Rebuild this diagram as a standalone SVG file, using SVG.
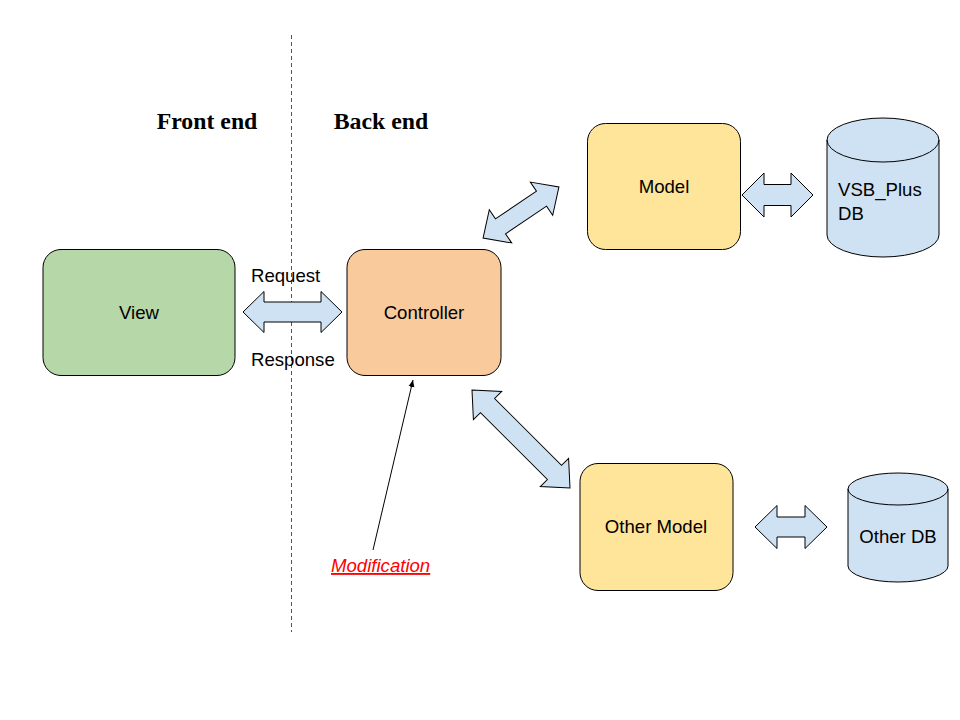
<svg xmlns="http://www.w3.org/2000/svg" width="960" height="720" viewBox="0 0 960 720">
<style>
.lbl{font-family:"Liberation Sans",Arial,sans-serif;font-size:18.6px;fill:#000;}
.hdr{font-family:"Liberation Serif","Times New Roman",serif;font-size:23.8px;font-weight:bold;fill:#000;}
.box{stroke:#000;stroke-width:1;}
.dbl{fill:#cfe2f3;stroke:#000;stroke-width:1;stroke-linejoin:miter;}
.cyl{fill:#cfe2f3;stroke:#000;stroke-width:1;}
</style>
<defs>
<marker id="ah" markerWidth="8" markerHeight="8" refX="7" refY="4" orient="auto" markerUnits="userSpaceOnUse">
<path d="M0,1 L7,4 L0,7 Z" fill="#000"/>
</marker>
</defs>
<rect width="960" height="720" fill="#fff"/>
<g id="divider">
<line x1="291.5" y1="35" x2="291.5" y2="632" stroke="#555" stroke-width="1" stroke-dasharray="4,3"/>
</g>
<g id="headers">
<text class="hdr" x="207" y="129" text-anchor="middle">Front end</text>
<text class="hdr" x="381" y="129" text-anchor="middle">Back end</text>
</g>
<g id="connectors">
<polygon class="dbl" points="243,312 264,291.5 264,302 321,302 321,291.5 342,312 321,332.5 321,322 264,322 264,332.5"/>
<polygon class="dbl" points="742,195 764,173 764,184.5 791,184.5 791,173 813,195 791,217 791,205.5 764,205.5 764,217"/>
<polygon class="dbl" points="755,527 777,505.5 777,517 805,517 805,505.5 827,527 805,548.5 805,537 777,537 777,548.5"/>
<g transform="translate(521,212.5) rotate(-34)">
<polygon class="dbl" points="-45.75,0 -24.75,-20 -24.75,-9 24.75,-9 24.75,-20 45.75,0 24.75,20 24.75,9 -24.75,9 -24.75,20"/>
</g>
<g transform="translate(521,439) rotate(45)">
<polygon class="dbl" points="-69.3,0 -47.3,-20 -47.3,-10 47.3,-10 47.3,-20 69.3,0 47.3,20 47.3,10 -47.3,10 -47.3,20"/>
</g>
<line x1="373" y1="550" x2="413" y2="380" stroke="#000" stroke-width="1" marker-end="url(#ah)"/>
<text class="lbl" x="251" y="282">Request</text>
<text class="lbl" x="251" y="366">Response</text>
<text x="331" y="572" font-family="Liberation Sans,Arial,sans-serif" font-size="18.6" font-style="italic" text-decoration="underline" fill="#ff0000">Modification</text>
</g>
<g id="view">
<rect class="box" x="43" y="249.5" width="192" height="126" rx="18" fill="#b6d7a8"/>
<text class="lbl" x="139" y="319" text-anchor="middle">View</text>
</g>
<g id="controller">
<rect class="box" x="347" y="249.5" width="154" height="126" rx="18" fill="#f9cb9c"/>
<text class="lbl" x="424" y="319" text-anchor="middle">Controller</text>
</g>
<g id="model">
<rect class="box" x="587.5" y="123.5" width="153" height="126" rx="18" fill="#ffe599"/>
<text class="lbl" x="664" y="193" text-anchor="middle">Model</text>
</g>
<g id="other-model">
<rect class="box" x="580" y="463.5" width="153" height="127" rx="18" fill="#ffe599"/>
<text class="lbl" x="656" y="533" text-anchor="middle">Other Model</text>
</g>
<g id="vsb-db">
<path class="cyl" d="M827,140 L827,235 A56,22 0 0,0 939,235 L939,140 A56,22 0 0,0 827,140 Z"/>
<path d="M827,140 A56,22 0 0,0 939,140" fill="none" stroke="#000" stroke-width="1"/>
<text class="lbl" x="838" y="196">VSB_Plus</text>
<text class="lbl" x="838" y="220">DB</text>
</g>
<g id="other-db">
<path class="cyl" d="M848,489 L848,566 A50,16 0 0,0 948,566 L948,489 A50,16 0 0,0 848,489 Z"/>
<path d="M848,489 A50,16 0 0,0 948,489" fill="none" stroke="#000" stroke-width="1"/>
<text class="lbl" x="898" y="543" text-anchor="middle">Other DB</text>
</g>
</svg>
